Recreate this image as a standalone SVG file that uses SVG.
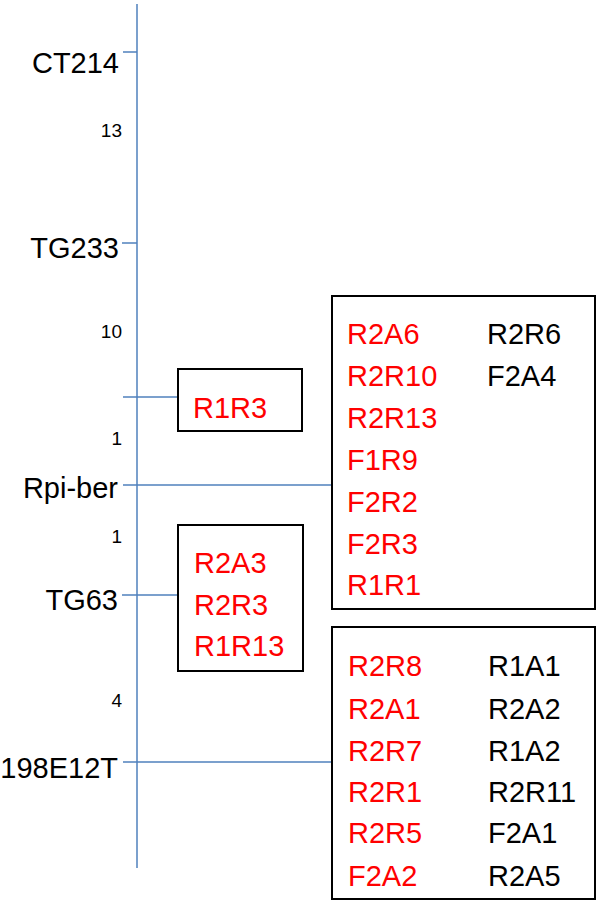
<svg xmlns="http://www.w3.org/2000/svg" width="600" height="907" viewBox="0 0 600 907">
<style>
.ax{stroke:#4F81BD;stroke-width:1.5;fill:none}
.box{fill:#fff;stroke:#000;stroke-width:2}
text{font-family:"Liberation Sans",Arial,sans-serif}
.lab{font-size:29px;fill:#000;text-anchor:end}
.num{font-size:19px;fill:#000;text-anchor:end}
.r{font-size:29px;fill:#FF0000}
.k{font-size:29px;fill:#000}
</style>
<rect width="600" height="907" fill="#fff"/>
<g id="connectors">
<line class="ax" x1="137" y1="4" x2="137" y2="868"/>
<line class="ax" x1="123" y1="52" x2="137" y2="52"/>
<line class="ax" x1="122" y1="243" x2="137" y2="243"/>
<line class="ax" x1="123" y1="397" x2="178" y2="397"/>
<line class="ax" x1="123" y1="485" x2="332" y2="485"/>
<line class="ax" x1="122" y1="595" x2="178" y2="595"/>
<line class="ax" x1="123" y1="762" x2="332" y2="762"/>
</g>
<g id="markers">
<text class="lab" x="119" y="73">CT214</text>
<text class="num" x="122" y="137">13</text>
<text class="lab" x="119" y="258">TG233</text>
<text class="num" x="122" y="338">10</text>
<text class="num" x="122" y="445">1</text>
<text class="lab" x="118" y="498">Rpi-ber</text>
<text class="num" x="122" y="543">1</text>
<text class="lab" x="118" y="610">TG63</text>
<text class="num" x="122" y="707">4</text>
<text class="lab" x="118" y="778">198E12T</text>
</g>
<g id="box-r1r3">
<rect class="box" x="178" y="369" width="124" height="62"/>
<text class="r" x="193" y="418">R1R3</text>
</g>
<g id="box-tg63">
<rect class="box" x="178" y="525" width="125" height="146"/>
<text class="r" x="194" y="573">R2A3</text>
<text class="r" x="194" y="615">R2R3</text>
<text class="r" x="194" y="656">R1R13</text>
</g>
<g id="box-rpiber">
<rect class="box" x="332" y="296" width="263" height="313"/>
<text class="r" x="347" y="344">R2A6</text>
<text class="r" x="347" y="386">R2R10</text>
<text class="r" x="347" y="428">R2R13</text>
<text class="r" x="347" y="470">F1R9</text>
<text class="r" x="347" y="512">F2R2</text>
<text class="r" x="347" y="554">F2R3</text>
<text class="r" x="347" y="595">R1R1</text>
<text class="k" x="487" y="344">R2R6</text>
<text class="k" x="487" y="386">F2A4</text>
</g>
<g id="box-198e12t">
<rect class="box" x="332" y="627" width="263" height="272"/>
<text class="r" x="348" y="676">R2R8</text>
<text class="r" x="348" y="719">R2A1</text>
<text class="r" x="348" y="761">R2R7</text>
<text class="r" x="348" y="802">R2R1</text>
<text class="r" x="348" y="843">R2R5</text>
<text class="r" x="348" y="886">F2A2</text>
<text class="k" x="488" y="676">R1A1</text>
<text class="k" x="488" y="719">R2A2</text>
<text class="k" x="488" y="761">R1A2</text>
<text class="k" x="488" y="802">R2R11</text>
<text class="k" x="488" y="843">F2A1</text>
<text class="k" x="488" y="886">R2A5</text>
</g>
</svg>
